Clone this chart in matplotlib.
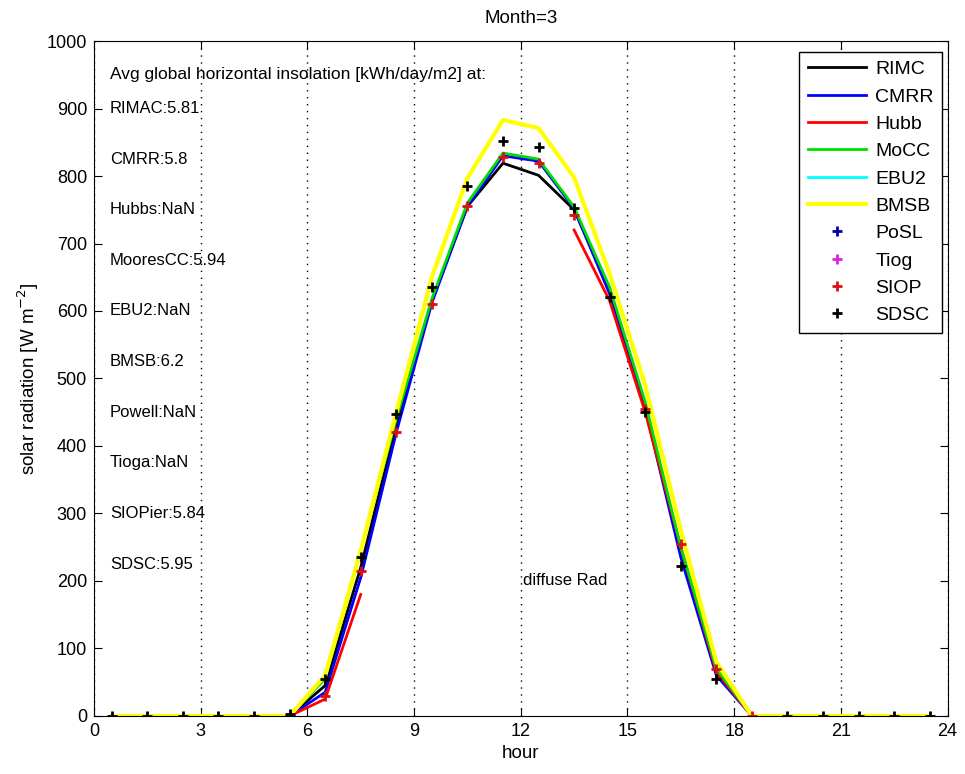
import matplotlib
matplotlib.use("Agg")

import matplotlib.pyplot as plt
import numpy as np

plt.rcParams["font.family"] = ["Liberation Sans", "DejaVu Sans"]

# --- data: hourly means, month 3 ---
hours = np.arange(0.5, 24, 1.0)
nan = np.nan
night_am = [0, 0, 0, 0, 0, 0]          # 0.5 .. 5.5
night_pm = [0, 0, 0, 0, 0, 0]          # 18.5 .. 23.5

rimc = night_am + [45, 220, 430, 615, 755, 819, 801, 750, 630, 460, 240, 65] + night_pm
cmrr = night_am + [35, 205, 420, 612, 755, 830, 822, 752, 625, 455, 235, 60] + night_pm
hubb = night_am + [25, 180, nan, nan, nan, nan, nan, 720, 615, 450, 250, 65] + night_pm
mocc = night_am + [55, 245, 440, 618, 760, 834, 825, 754, 635, 465, 250, 70] + night_pm
ebu2 = [nan] * 24
bmsb = night_am + [60, 245, 450, 650, 797, 883, 871, 798, 655, 490, 275, 80] + night_pm

posl = [nan] * 24
tiog = [nan] * 24
siop = [nan] * 5 + [0, 30, 215, 420, 610, 755, 828, 820, 742, 620, 455, 255, 70, 0] + [nan] * 5
sdsc = [0, 0, 0, 0, 0, 3, 55, 235, 447, 635, 785, 852, 843, 752, 620, 450, 222, 55,
        nan, 0, 0, 0, 0, 0]

site_text = ["RIMAC:5.81", "CMRR:5.8", "Hubbs:NaN", "MooresCC:5.94", "EBU2:NaN",
             "BMSB:6.2", "Powell:NaN", "Tioga:NaN", "SIOPier:5.84", "SDSC:5.95"]

# --- plot ---
fig = plt.figure(figsize=(9.65, 7.74), dpi=100)
ax = fig.add_axes([0.0974, 0.075, 0.8845, 0.872])

ax.plot(hours, rimc, color="black", lw=2, label="RIMC")
ax.plot(hours, cmrr, color="blue", lw=2, label="CMRR")
ax.plot(hours, hubb, color="red", lw=2, label="Hubb")
ax.plot(hours, mocc, color="#00dd00", lw=2, label="MoCC")
ax.plot(hours, ebu2, color="cyan", lw=2, label="EBU2")
ax.plot(hours, bmsb, color="yellow", lw=3, label="BMSB")

ms = dict(linestyle="none", marker="+", markersize=7, markeredgewidth=2)
ax.plot(hours, posl, color="#0000aa", label="PoSL", **ms)
ax.plot(hours, tiog, color="#dd22dd", label="Tiog", **ms)
ax.plot(hours, siop, color="#dd1111", label="SIOP", **ms)
ax.plot(hours, sdsc, color="black", label="SDSC", **ms)

txt_size = 12
ax.text(0.45, 950, "Avg global horizontal insolation [kWh/day/m2] at:", fontsize=12.5,
        va="center")
for k, s in enumerate(site_text):
    ax.text(0.45, 900 - 75 * k, s, fontsize=txt_size, va="center")
ax.text(12.05, 200, "diffuse Rad", fontsize=txt_size, va="center")

ax.set_xlim(0, 24)
ax.set_ylim(0, 1000)
ax.set_xticks(np.arange(0, 25, 3))
ax.set_yticks(np.arange(0, 1001, 100))
ax.tick_params(direction="in", top=True, right=True, labelsize=13, length=6, pad=5)
ax.grid(True, axis="x", linestyle=(0, (1, 4)), color="black", lw=1)
ax.set_xlabel("hour", fontsize=13.5, labelpad=4)
ax.set_ylabel("solar radiation [W m$^{-2}$]", fontsize=13.5, labelpad=4)
ax.set_title("Month=3", fontsize=13.5, pad=13)

leg = ax.legend(loc="upper right", bbox_to_anchor=(0.994, 0.984), borderaxespad=0,
                fontsize=14, fancybox=False, framealpha=1, edgecolor="black",
                handlelength=3.0, handletextpad=0.45, labelspacing=0.5,
                borderpad=0.45)
leg.get_frame().set_linewidth(1)

fig.savefig("out.png", dpi=100)
